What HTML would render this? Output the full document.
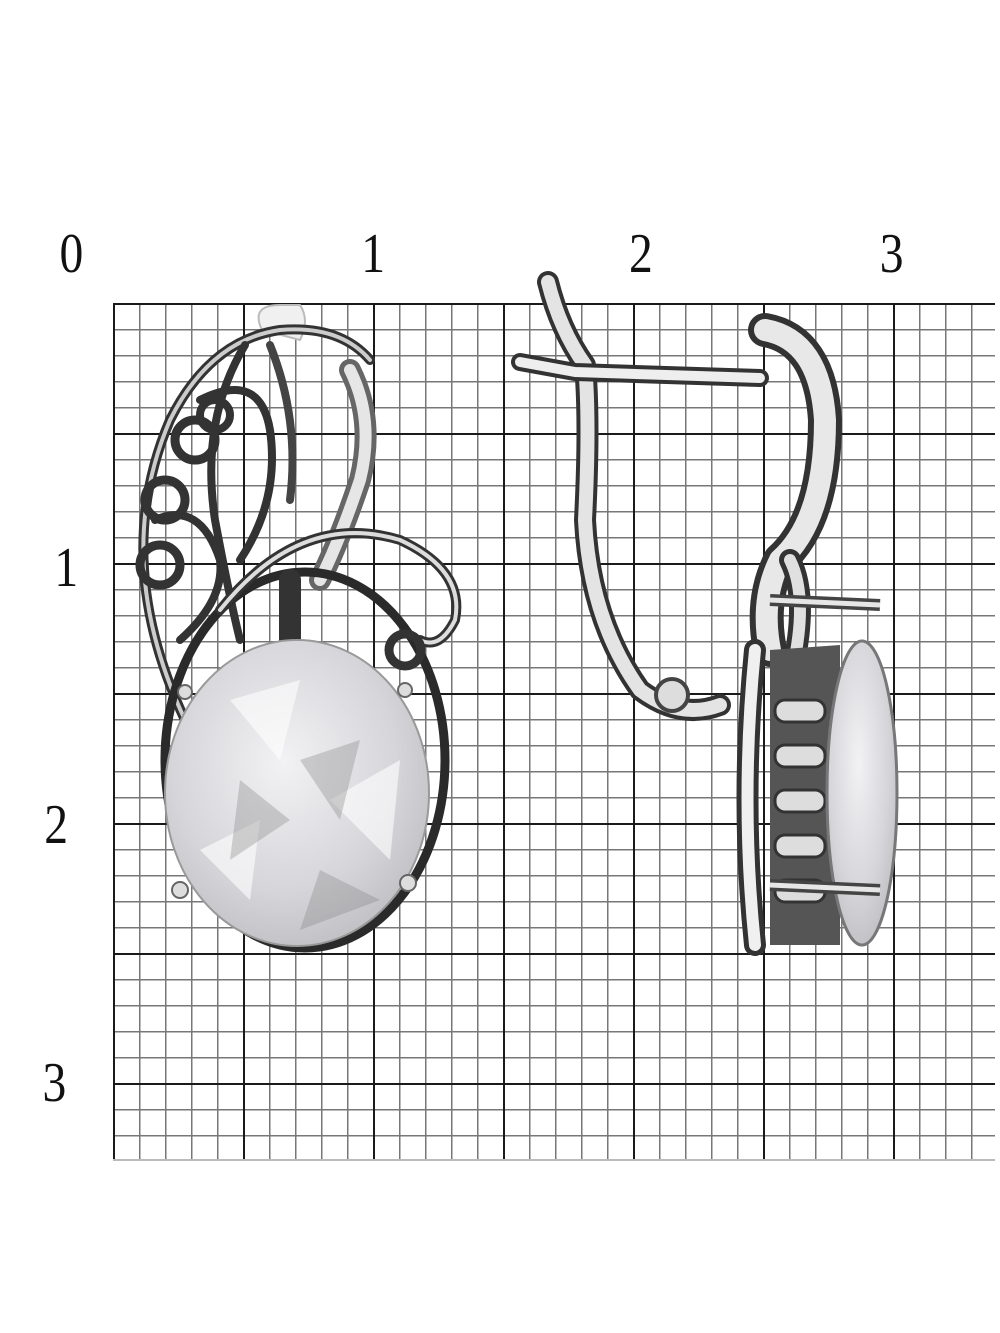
<!DOCTYPE html>
<html><head><meta charset="utf-8"><style>
html,body{margin:0;padding:0;background:#fff}
svg{display:block}
text{font-family:"Liberation Serif",serif;font-size:56px;fill:#111}
</style></head><body>
<svg width="1000" height="1333" viewBox="0 0 1000 1333" xmlns="http://www.w3.org/2000/svg">
<defs>
<pattern id="minor" x="113" y="303" width="26" height="26" patternUnits="userSpaceOnUse">
<path d="M0 0V26M0 0H26" stroke="#777" stroke-width="3" fill="none"/>
</pattern>
<pattern id="major" x="113" y="303" width="130" height="130" patternUnits="userSpaceOnUse">
<path d="M0 0V130M0 0H130" stroke="#1a1a1a" stroke-width="4" fill="none"/>
</pattern>
<radialGradient id="gem" cx="0.45" cy="0.4" r="0.7">
<stop offset="0" stop-color="#f2f2f4"/><stop offset="0.6" stop-color="#d6d6da"/><stop offset="1" stop-color="#b8b8bd"/>
</radialGradient>
</defs>
<rect x="113" y="303" width="882" height="857" fill="url(#minor)"/>
<rect x="113" y="303" width="882" height="857" fill="url(#major)"/>
<path d="M113 1160H995" stroke="#bbb" stroke-width="2"/>

<g transform="scale(0.85,1)">
<text x="70" y="272">0</text>
<text x="425" y="272">1</text>
<text x="740" y="272">2</text>
<text x="1035" y="272">3</text>
<text x="64" y="586">1</text>
<text x="52" y="843">2</text>
<text x="50" y="1101">3</text>
</g>

<!-- left earring -->
<g fill="none" stroke-linecap="round">
<path d="M262 330 Q250 305 280 305 L300 305 Q310 320 300 340 Z" fill="#f0f0f0" stroke="#bbb" stroke-width="2"/>
<path d="M185 720 Q110 560 170 420 Q210 340 280 330 Q340 325 370 360" stroke="#333" stroke-width="10"/>
<path d="M185 720 Q110 560 170 420 Q210 340 280 330 Q340 325 370 360" stroke="#ccc" stroke-width="4"/>
<path d="M245 345 Q200 420 215 520 Q230 600 240 640" stroke="#333" stroke-width="8"/>
<path d="M270 345 Q300 420 290 500" stroke="#444" stroke-width="8"/>
<path d="M350 370 Q375 420 360 480 Q340 540 320 580" stroke="#666" stroke-width="22"/>
<path d="M350 370 Q375 420 360 480 Q340 540 320 580" stroke="#e6e6e6" stroke-width="12"/>
<circle cx="195" cy="440" r="20" stroke="#333" stroke-width="9"/>
<circle cx="165" cy="500" r="20" stroke="#333" stroke-width="9"/>
<circle cx="160" cy="565" r="20" stroke="#333" stroke-width="9"/>
<circle cx="215" cy="415" r="15" stroke="#333" stroke-width="8"/>
<path d="M200 400 Q260 370 270 430 Q280 500 240 560" stroke="#333" stroke-width="8"/>
<path d="M155 520 Q200 500 220 560 Q225 600 180 640" stroke="#333" stroke-width="8"/>
<ellipse cx="305" cy="760" rx="140" ry="188" stroke="#2a2a2a" stroke-width="9"/>
<path d="M220 610 Q300 510 400 540 Q465 570 455 620 Q440 650 420 640" stroke="#333" stroke-width="10"/>
<path d="M220 610 Q300 510 400 540 Q465 570 455 620 Q440 650 420 640" stroke="#ddd" stroke-width="4"/>
<circle cx="405" cy="650" r="16" stroke="#333" stroke-width="9"/>
<path d="M290 580 L290 640" stroke="#333" stroke-width="22"/>
</g>
<ellipse cx="297" cy="793" rx="132" ry="153" fill="url(#gem)" stroke="#999" stroke-width="2"/>
<g fill="#fff" opacity="0.6"><path d="M230 700 L300 680 L280 760 Z"/><path d="M330 800 L400 760 L390 860 Z"/><path d="M200 850 L260 820 L250 900 Z"/></g>
<g fill="#888" opacity="0.35"><path d="M300 760 L360 740 L340 820 Z"/><path d="M240 780 L290 820 L230 860 Z"/><path d="M320 870 L380 900 L300 930 Z"/></g>
<circle cx="180" cy="890" r="8" fill="#ddd" stroke="#666" stroke-width="2"/>
<circle cx="408" cy="883" r="8" fill="#ddd" stroke="#666" stroke-width="2"/>
<circle cx="185" cy="692" r="7" fill="#ddd" stroke="#666" stroke-width="2"/>
<circle cx="405" cy="690" r="7" fill="#ddd" stroke="#666" stroke-width="2"/>

<!-- right earring -->
<g fill="none" stroke-linecap="round" stroke-linejoin="round">
<path d="M548 282 Q560 330 585 365 Q590 420 585 520 Q590 620 640 690 Q680 720 720 705" stroke="#333" stroke-width="22"/>
<path d="M548 282 Q560 330 585 365 Q590 420 585 520 Q590 620 640 690 Q680 720 720 705" stroke="#e4e4e4" stroke-width="14"/>
<path d="M520 362 L575 372 L760 378" stroke="#333" stroke-width="18"/>
<path d="M520 362 L575 372 L760 378" stroke="#eee" stroke-width="10"/>
<path d="M765 330 Q820 340 825 420 Q825 520 780 560 Q760 600 770 650" stroke="#333" stroke-width="34"/>
<path d="M765 330 Q820 340 825 420 Q825 520 780 560 Q760 600 770 650" stroke="#e8e8e8" stroke-width="22"/>
<path d="M790 560 Q810 600 790 680" stroke="#333" stroke-width="22"/>
<path d="M790 560 Q810 600 790 680" stroke="#e0e0e0" stroke-width="12"/>
<path d="M755 650 Q740 800 755 945" stroke="#333" stroke-width="22"/>
<path d="M755 650 Q740 800 755 945" stroke="#f0f0f0" stroke-width="12"/>
</g>
<circle cx="672" cy="695" r="16" fill="#ddd" stroke="#444" stroke-width="4"/>
<path d="M770 650 L840 645 L840 945 L770 945 Z" fill="#555"/>
<g fill="#ddd" stroke="#333" stroke-width="3">
<rect x="775" y="700" width="50" height="22" rx="10"/>
<rect x="775" y="745" width="50" height="22" rx="10"/>
<rect x="775" y="790" width="50" height="22" rx="10"/>
<rect x="775" y="835" width="50" height="22" rx="10"/>
<rect x="775" y="880" width="50" height="22" rx="10"/>
</g>
<ellipse cx="862" cy="793" rx="35" ry="152" fill="url(#gem)" stroke="#777" stroke-width="3"/>
<path d="M770 600 L880 605 M770 885 L880 890" stroke="#444" stroke-width="12"/>
<path d="M770 600 L880 605 M770 885 L880 890" stroke="#e6e6e6" stroke-width="5"/>
</svg>
</body></html>
